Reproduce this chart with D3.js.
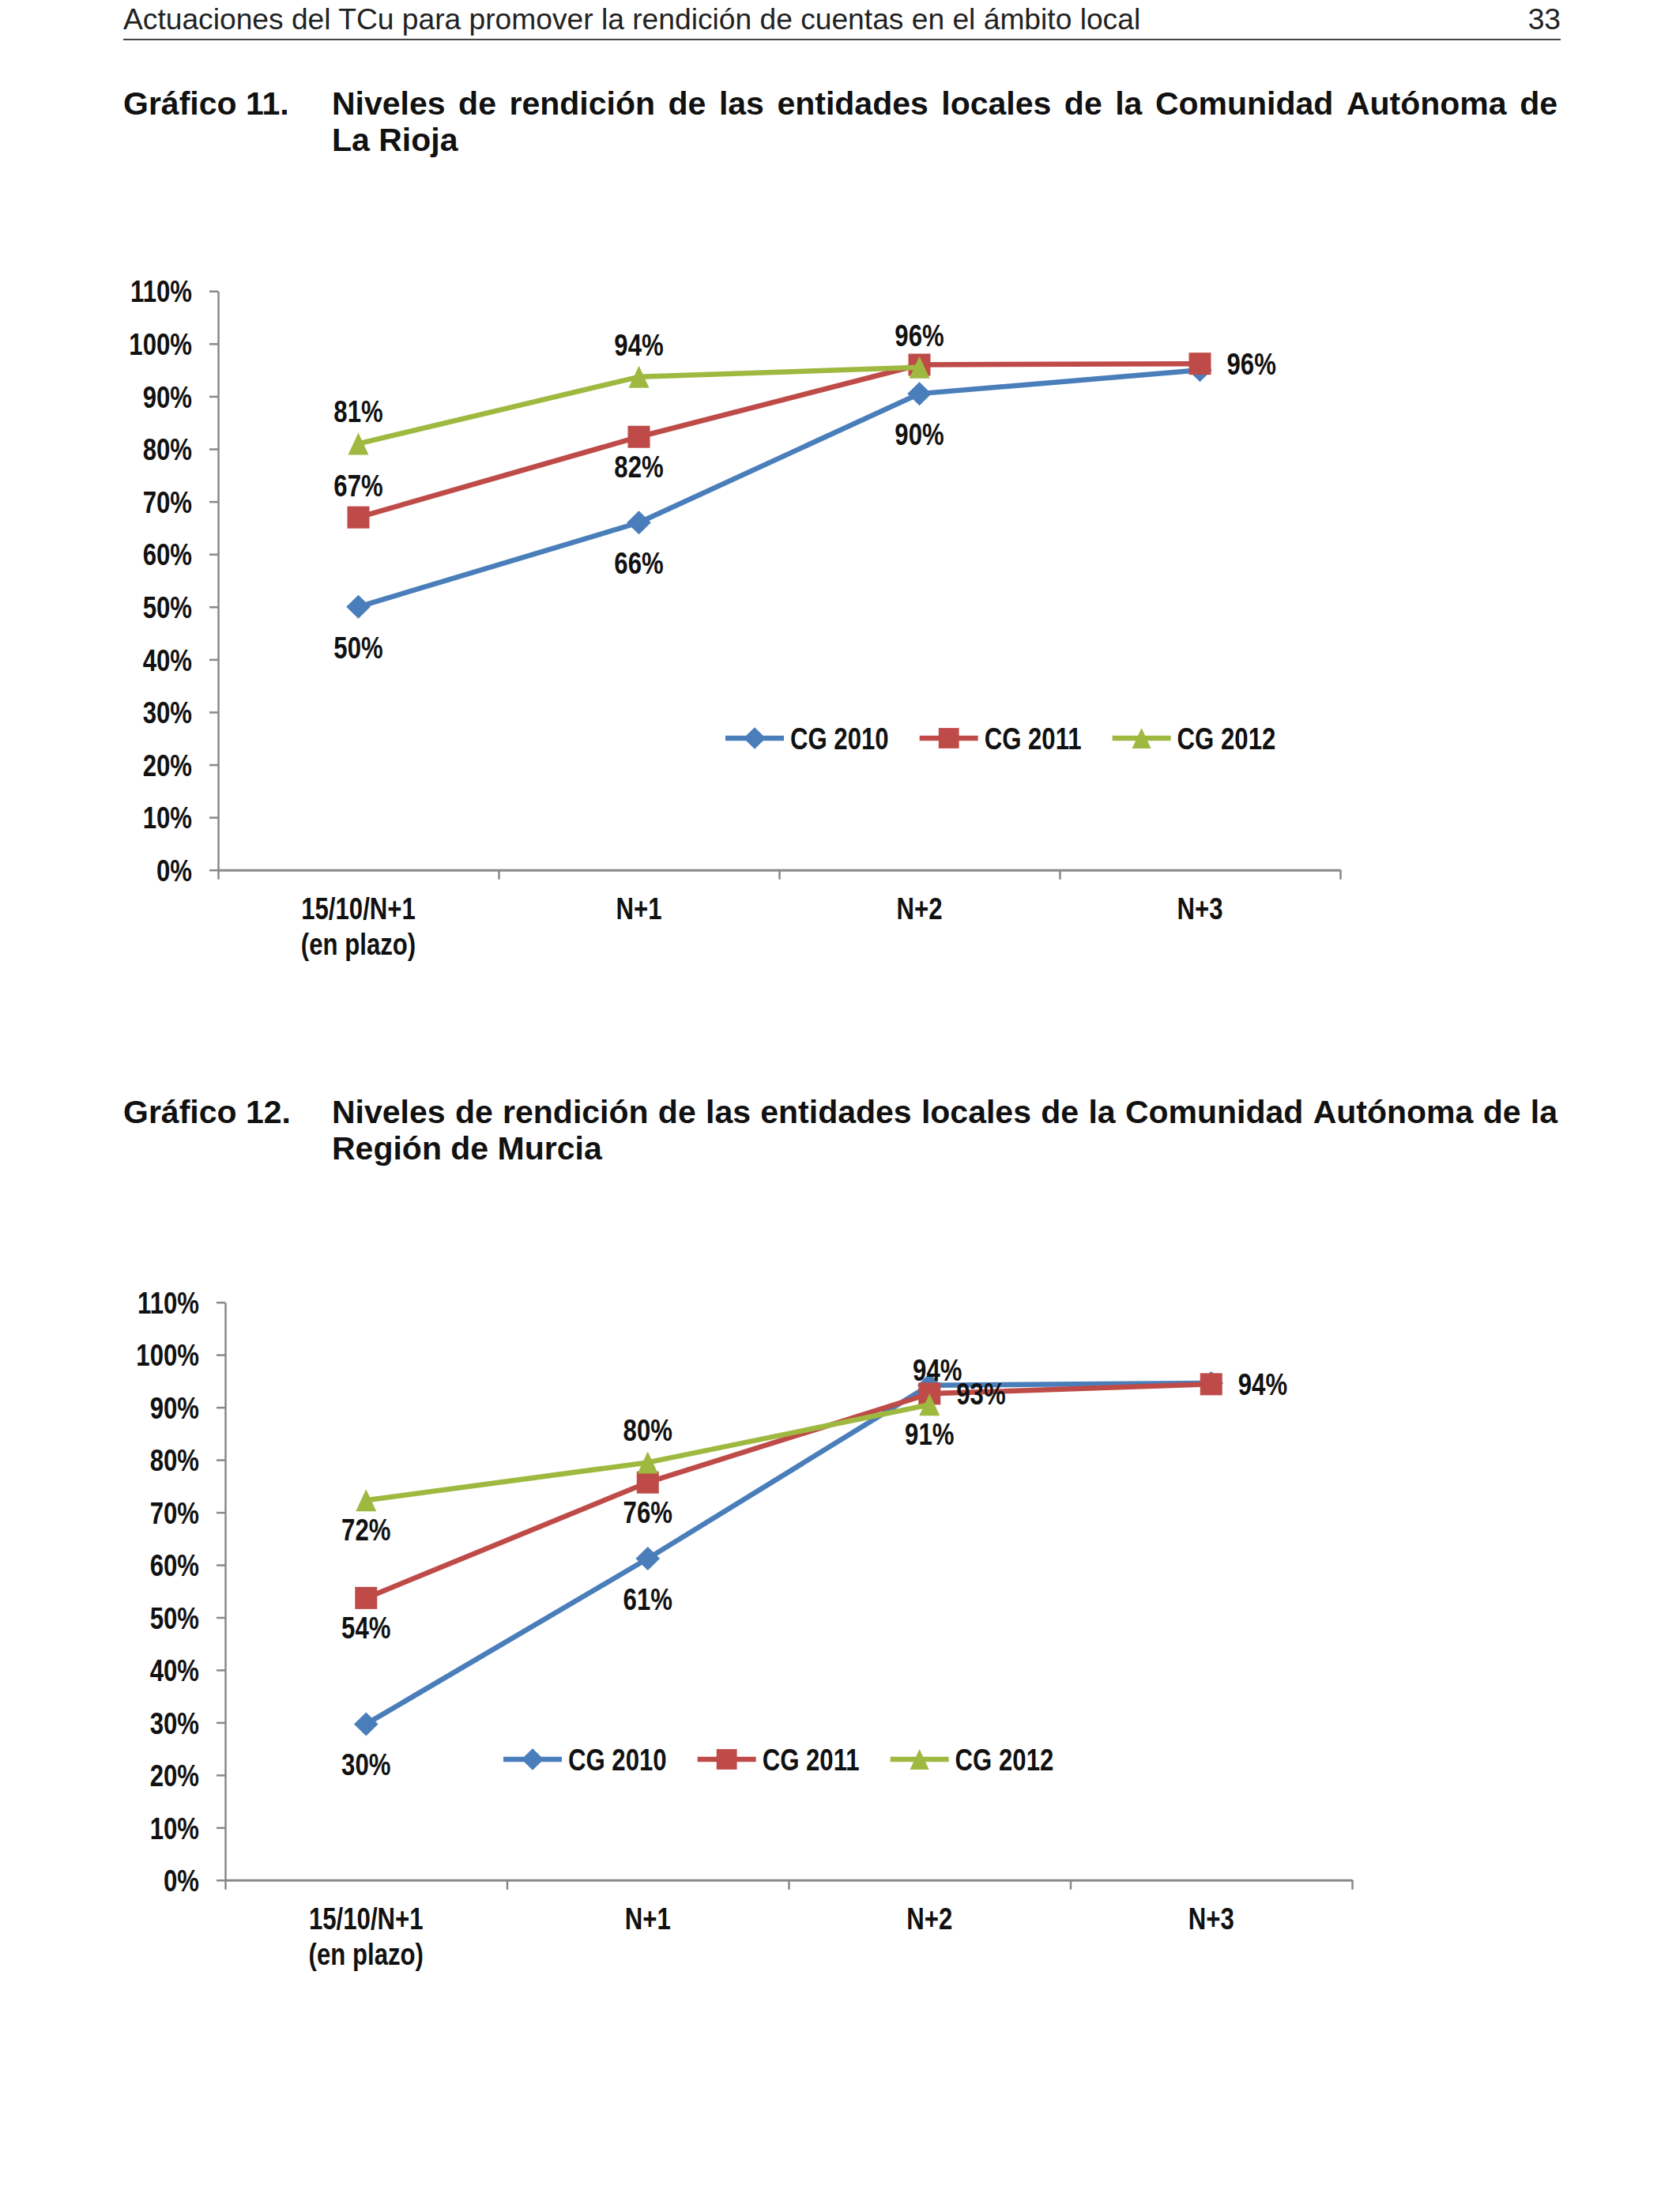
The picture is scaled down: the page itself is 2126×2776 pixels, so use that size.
<!DOCTYPE html>
<html>
<head>
<meta charset="utf-8">
<script src="https://cdn.jsdelivr.net/npm/d3@7"></script>
<style>
  html, body { margin: 0; padding: 0; background: #ffffff; }
  svg { display: block; }
</style>
</head>
<body>
<svg id="page" width="2126" height="2776"></svg>
<script>
// ---------------- DATA ----------------
const headerText = "Actuaciones del TCu para promover la rendición de cuentas en el ámbito local";
const pageNumber = "33";

const categories = ["15/10/N+1\n(en plazo)", "N+1", "N+2", "N+3"];
const seriesNames = ["CG 2010", "CG 2011", "CG 2012"];
const yTicks = [0, 10, 20, 30, 40, 50, 60, 70, 80, 90, 100, 110];

// Gráfico 11 – La Rioja
const title11Label = "Gráfico 11.";
const title11Lines = ["Niveles de rendición de las entidades locales de la Comunidad Autónoma de", "La Rioja"];
const rioja2010 = [50, 66, 90.5, 95];
const rioja2011 = [67, 82.3, 96, 96.2];
const rioja2012 = [81, 93.7, 95.5, null];
const riojaLabels2010 = ["50%", "66%", "90%", ""];
const riojaLabels2011 = ["67%", "82%", "", "96%"];
const riojaLabels2012 = ["81%", "94%", "96%", ""];
const riojaPlace2010 = ["below", "below", "below", "none"];
const riojaPlace2011 = ["above", "below", "none", "right"];
const riojaPlace2012 = ["above", "above", "above", "none"];

// Gráfico 12 – Región de Murcia
const title12Label = "Gráfico 12.";
const title12Lines = ["Niveles de rendición de las entidades locales de la Comunidad Autónoma de la", "Región de Murcia"];
const murcia2010 = [29.7, 61.2, 94.2, 94.6];
const murcia2011 = [53.7, 75.7, 92.6, 94.4];
const murcia2012 = [72.3, 79.5, 90.5, null];
const murciaLabels2010 = ["30%", "61%", "94%", ""];
const murciaLabels2011 = ["54%", "76%", "93%", "94%"];
const murciaLabels2012 = ["72%", "80%", "91%", ""];
const murciaPlace2010 = ["below", "below", "close", "none"];
const murciaPlace2011 = ["below", "below", "right", "right"];
const murciaPlace2012 = ["below", "above", "below", "none"];

// ---------------- STYLE ----------------
const colors = ["#4A7EBB", "#BE4B48", "#9FB83F"];
const axisColor = "#888888";
const textColor = "#111111";
const belowOffsets = [65, 51, 51];

function fontAvailable(name) {
  const c = document.createElement("canvas").getContext("2d");
  const probe = "CG 2010 110% abcxyz";
  c.font = "bold 40px monospace";
  const w0 = c.measureText(probe).width;
  c.font = `bold 40px "${name}", monospace`;
  const w1 = c.measureText(probe).width;
  return Math.abs(w0 - w1) > 0.5;
}
const hasNarrow = fontAvailable("Liberation Sans Narrow");
const chartFont = hasNarrow ? "'Liberation Sans Narrow', 'Arial Narrow', sans-serif" : "'Liberation Sans', Arial, sans-serif";
const SX = hasNarrow ? 1 : 0.82;
const chartFontSize = 38;

const svg = d3.select("#page");

// ---------------- PAGE HEADER ----------------
const pageLeft = 156, pageRight = 1975;
svg.append("text")
  .attr("x", pageLeft).attr("y", 37)
  .attr("font-family", "'Liberation Sans', Arial, sans-serif")
  .attr("font-size", 37.2).attr("fill", "#222")
  .text(headerText);
svg.append("text")
  .attr("x", pageRight).attr("y", 37).attr("text-anchor", "end")
  .attr("font-family", "'Liberation Sans', Arial, sans-serif")
  .attr("font-size", 37.2).attr("fill", "#222")
  .text(pageNumber);
svg.append("line")
  .attr("x1", pageLeft).attr("x2", pageRight)
  .attr("y1", 50).attr("y2", 50)
  .attr("stroke", "#444").attr("stroke-width", 2);

// ---------------- TITLES (justified) ----------------
function drawTitle(label, lines, yFirst, lineGap) {
  const g = svg.append("g")
    .attr("font-family", "'Liberation Sans', Arial, sans-serif")
    .attr("font-weight", "bold").attr("font-size", 41).attr("fill", "#111");
  g.append("text").attr("x", pageLeft).attr("y", yFirst).text(label);
  const xs = 420, xe = 1971;
  const tmp = g.append("text").attr("x", -1000).attr("y", -1000);
  const measure = s => { tmp.text(s); return tmp.node().getComputedTextLength(); };
  const spaceW = measure("a a") - measure("aa");
  lines.forEach((ln, li) => {
    const y = yFirst + li * lineGap;
    const words = ln.split(" ");
    const widths = words.map(measure);
    const total = d3.sum(widths);
    const last = li === lines.length - 1;
    const gap = (!last && words.length > 1) ? (xe - xs - total) / (words.length - 1) : spaceW;
    let x = xs;
    words.forEach((w, i) => {
      g.append("text").attr("x", x).attr("y", y).text(w);
      x += widths[i] + gap;
    });
  });
  tmp.remove();
}
drawTitle(title11Label, title11Lines, 145, 46);
drawTitle(title12Label, title12Lines, 1421, 46);

// ---------------- MARKERS ----------------
const triangleType = {
  draw(context, size) {
    const w = Math.sqrt(size) * 0.93, h = Math.sqrt(size);
    context.moveTo(0, -h / 2);
    context.lineTo(w / 2, h / 2);
    context.lineTo(-w / 2, h / 2);
    context.closePath();
  }
};
const diamondType = {
  draw(context, size) {
    const r = Math.sqrt(size) / 2;
    context.moveTo(0, -r);
    context.lineTo(r * 1.02, 0);
    context.lineTo(0, r);
    context.lineTo(-r * 1.02, 0);
    context.closePath();
  }
};
const markerTypes = [diamondType, d3.symbolSquare, triangleType];
const markerSizes = [30 * 30, 28 * 28, 28 * 28];

function chartText(g, x, y, s, anchor) {
  return g.append("text")
    .attr("transform", `translate(${x},${y}) scale(${SX},1)`)
    .attr("text-anchor", anchor)
    .attr("font-family", chartFont)
    .attr("font-weight", "bold")
    .attr("font-size", chartFontSize)
    .attr("fill", textColor)
    .text(s);
}

// ---------------- CHART ----------------
function drawChart(cfg) {
  const g = svg.append("g");
  const x = d3.scaleBand().domain(categories).range([cfg.x0, cfg.x1]).padding(0);
  const xb = d3.scaleLinear().domain([0, categories.length]).range([cfg.x0, cfg.x1]);
  const y = d3.scaleLinear().domain([0, 110]).range([cfg.yBot, cfg.yTop]);
  const cx = c => x(c) + x.bandwidth() / 2;

  // Y axis
  const ya = g.append("g").attr("transform", `translate(${cfg.x0},0)`)
    .call(d3.axisLeft(y).tickValues(yTicks).tickSize(11).tickSizeOuter(0).tickFormat(d => d + "%"));
  ya.select(".domain").attr("stroke", axisColor).attr("stroke-width", 2.5);
  ya.selectAll(".tick line").attr("stroke", axisColor).attr("stroke-width", 2.5);
  ya.selectAll(".tick text")
    .attr("x", null).attr("dy", "0.36em")
    .attr("transform", `translate(-33,0) scale(${SX},1)`)
    .attr("text-anchor", "end")
    .attr("font-family", chartFont).attr("font-weight", "bold")
    .attr("font-size", chartFontSize).attr("fill", textColor);

  // X axis boundary ticks
  const xa = g.append("g").attr("transform", `translate(0,${cfg.yBot})`)
    .call(d3.axisBottom(xb).tickValues(d3.range(categories.length + 1)).tickSize(12).tickSizeOuter(0).tickFormat(""));
  xa.select(".domain").attr("stroke", axisColor).attr("stroke-width", 3);
  xa.selectAll(".tick line").attr("stroke", axisColor).attr("stroke-width", 2.5);

  // X category labels
  const xl = g.append("g").attr("transform", `translate(0,${cfg.yBot})`)
    .call(d3.axisBottom(x).tickSize(0).tickPadding(0));
  xl.select(".domain").remove();
  xl.selectAll(".tick text").each(function (d) {
    const t = d3.select(this);
    t.text(null).attr("y", null).attr("dy", null)
      .attr("transform", `translate(0,62) scale(${SX},1)`)
      .attr("text-anchor", "middle")
      .attr("font-family", chartFont).attr("font-weight", "bold")
      .attr("font-size", chartFontSize).attr("fill", textColor);
    d.split("\n").forEach((part, i) => {
      t.append("tspan").attr("x", 0).attr("y", i * 45).text(part);
    });
  });

  // Series
  const line = d3.line()
    .defined(d => d.v != null)
    .x(d => cx(d.c)).y(d => y(d.v));
  const labelLayer = [];
  cfg.series.forEach((s, si) => {
    const pts = categories.map((c, i) => ({ c, si, v: s.values[i], label: s.labels[i], place: s.place[i] }));
    g.append("path").datum(pts)
      .attr("d", line)
      .attr("fill", "none").attr("stroke", colors[si])
      .attr("stroke-width", 6.5).attr("stroke-linejoin", "round");
    g.selectAll(null).data(pts.filter(p => p.v != null)).enter()
      .append("path")
      .attr("d", d3.symbol().type(markerTypes[si]).size(markerSizes[si]))
      .attr("transform", p => `translate(${cx(p.c)},${y(p.v)})`)
      .attr("fill", colors[si]);
    pts.forEach(p => { if (p.v != null && p.place !== "none" && p.label) labelLayer.push(p); });
  });

  labelLayer.forEach(p => {
    const px = cx(p.c), py = y(p.v);
    if (p.place === "above") chartText(g, px, py - 27, p.label, "middle");
    else if (p.place === "below") chartText(g, px, py + belowOffsets[p.si], p.label, "middle");
    else if (p.place === "close") chartText(g, px + 10, py - 6, p.label, "middle");
    else if (p.place === "right") chartText(g, px + 34, py + 14, p.label, "start");
  });

  // Legend
  const lg = g.append("g").attr("transform", `translate(${cfg.legendX},${cfg.legendY})`);
  let lx = 0;
  seriesNames.forEach((name, si) => {
    lg.append("line").attr("x1", lx).attr("x2", lx + 74).attr("y1", 0).attr("y2", 0)
      .attr("stroke", colors[si]).attr("stroke-width", 6.5);
    lg.append("path")
      .attr("d", d3.symbol().type(markerTypes[si]).size(markerSizes[si] * 0.85))
      .attr("transform", `translate(${lx + 37},0)`)
      .attr("fill", colors[si]);
    const t = chartText(lg, lx + 82, 14, name, "start");
    const w = t.node().getComputedTextLength() * SX;
    lx += 82 + w + 39;
  });
}

drawChart({
  x0: 276, x1: 1696, yTop: 368.3, yBot: 1100.7,
  legendX: 918, legendY: 934,
  series: [
    { values: rioja2010, labels: riojaLabels2010, place: riojaPlace2010 },
    { values: rioja2011, labels: riojaLabels2011, place: riojaPlace2011 },
    { values: rioja2012, labels: riojaLabels2012, place: riojaPlace2012 }
  ]
});

drawChart({
  x0: 285, x1: 1711, yTop: 1647.7, yBot: 2378.8,
  legendX: 637, legendY: 2226,
  series: [
    { values: murcia2010, labels: murciaLabels2010, place: murciaPlace2010 },
    { values: murcia2011, labels: murciaLabels2011, place: murciaPlace2011 },
    { values: murcia2012, labels: murciaLabels2012, place: murciaPlace2012 }
  ]
});
</script>
</body>
</html>
